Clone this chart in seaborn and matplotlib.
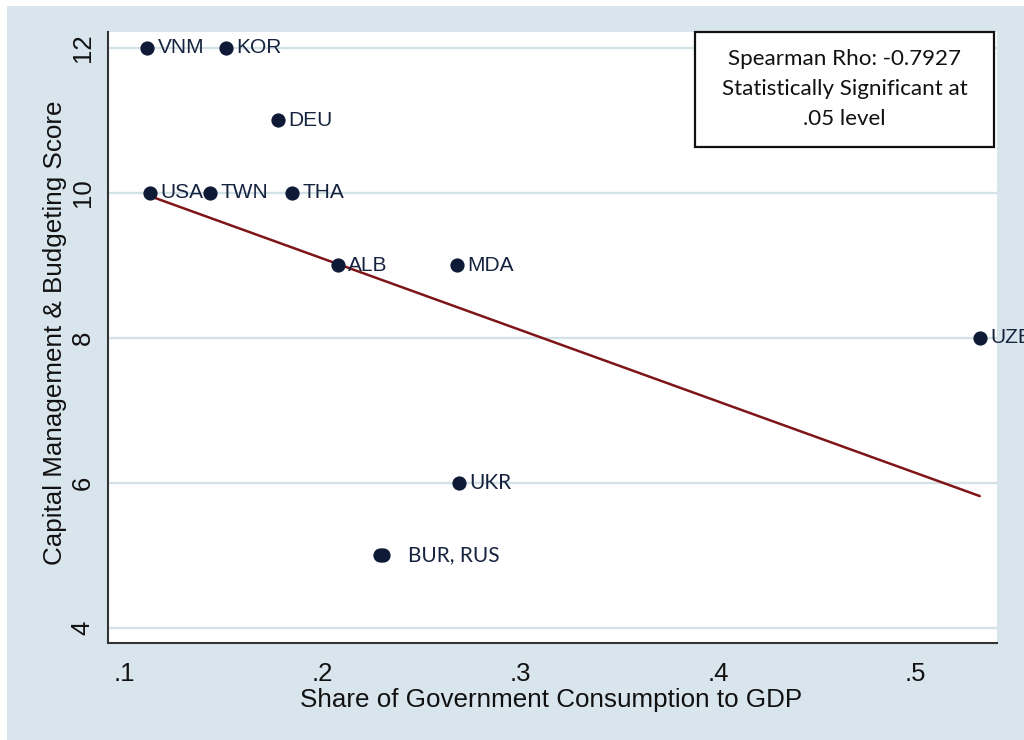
import numpy as np
import pandas as pd
import matplotlib
matplotlib.use("Agg")
import matplotlib.pyplot as plt
from matplotlib.patches import Rectangle
import seaborn as sns

# Country codes, government consumption share of GDP, and capital management score
countries = ["VNM", "KOR", "DEU", "USA", "TWN", "THA", "ALB", "MDA", "UZB", "UKR", "BUR", "RUS"]
gov_share = [0.1116, 0.1515, 0.1778, 0.1131, 0.1434, 0.1848, 0.2081, 0.2682, 0.5323, 0.2692, 0.2293, 0.2308]
cm_score = [12, 12, 11, 10, 10, 10, 9, 9, 8, 6, 5, 5]

# Point labels (BUR and RUS share one label)
point_labels = ["VNM", "KOR", "DEU", "USA", "TWN", "THA", "ALB", "MDA", "UZB", "UKR", "", "BUR, RUS"]
label_font = ["sans", "sans", "sans", "sans", "sans", "sans", "sans", "sans", "sans", "alt", "alt", "alt"]
label_dx = [7.5, 7.5, 7.5, 7.5, 7.5, 7.5, 7.5, 7.5, 7.5, 7.5, 7.5, 18]

x_ticks = [0.1, 0.2, 0.3, 0.4, 0.5]
x_tick_labels = [".1", ".2", ".3", ".4", ".5"]
y_ticks = [4, 6, 8, 10, 12]

stats_text = "Spearman Rho: -0.7927\nStatistically Significant at\n.05 level"
x_title = "Share of Government Consumption to GDP"
y_title = "Capital Management & Budgeting Score"

df = pd.DataFrame({"country": countries, "share": gov_share, "score": cm_score})

sns.set_style("white")
plt.rcParams["font.family"] = ["Liberation Sans", "DejaVu Sans"]

W, H = 1024, 740
fig = plt.figure(figsize=(W / 100, H / 100), dpi=100, facecolor="white")

bg = "#d9e5ec"
navy = "#0e1a36"
fig.patches.append(Rectangle((7 / W, -0.02), 1, 1.02 - 6 / H, transform=fig.transFigure,
                             facecolor=bg, edgecolor="none", zorder=-10))

left, right, top, bottom = 108, 997, 32, 643
ax = fig.add_axes([left / W, 1 - bottom / H, (right - left) / W, (bottom - top) / H])
ax.set_facecolor("white")

ax.set_xlim(0.0919, 0.5410)
ax.set_ylim(3.79, 12.22)

for yv in y_ticks:
    ax.axhline(yv, color="#d3e2e7", lw=1.7, zorder=0)

sns.regplot(data=df, x="share", y="score", scatter=False, ci=None, ax=ax,
            line_kws={"color": "#7e1518", "lw": 1.8, "zorder": 2})
sns.scatterplot(data=df, x="share", y="score", ax=ax, color=navy, s=105,
                edgecolor=navy, linewidth=0, zorder=3, legend=False)

for xv, yv, lab, fnt, dx in zip(gov_share, cm_score, point_labels, label_font, label_dx):
    if not lab:
        continue
    fam = ["Liberation Sans"] if fnt == "sans" else ["Lato", "DejaVu Sans"]
    ax.annotate(lab, (xv, yv), xytext=(dx, 0), textcoords="offset points",
                ha="left", va="center", fontsize=15, color="#16233f",
                family=fam, clip_on=False, annotation_clip=False, zorder=4)

ax.set_xticks(x_ticks)
ax.set_xticklabels(x_tick_labels)
ax.set_yticks(y_ticks)
ax.set_yticklabels([str(v) for v in y_ticks], rotation=90, va="center")
ax.tick_params(axis="both", which="both", direction="out", length=7, width=1.3,
               color="#333333", labelsize=18.5, labelcolor="#111111")
ax.tick_params(axis="x", pad=7)
ax.tick_params(axis="y", pad=2.5)

for side in ["top", "right"]:
    ax.spines[side].set_visible(False)
for side in ["left", "bottom"]:
    ax.spines[side].set_color("#333333")
    ax.spines[side].set_linewidth(1.5)

ax.set_xlabel(x_title, fontsize=18.7, color="#111111")
ax.set_ylabel(y_title, fontsize=18.7, color="#111111")
ax.xaxis.set_label_coords(0.498, -0.073)
ax.yaxis.set_label_coords(-0.046, 0.508)

# Statistics box in the upper right corner
bx0, bx1, by0, by1 = 695, 994, 32, 147
fig.patches.append(Rectangle((bx0 / W, 1 - by1 / H), (bx1 - bx0) / W, (by1 - by0) / H,
                             transform=fig.transFigure, facecolor="white",
                             edgecolor="#111111", lw=1.6, zorder=5))
fig.text((bx0 + bx1) / 2 / W, 1 - 89 / H, stats_text, ha="center",
         va="center", fontsize=16.1, family=["Lato", "DejaVu Sans"], color="#111111",
         linespacing=1.6, zorder=6)

fig.savefig("out.png", dpi=100, facecolor="white")
